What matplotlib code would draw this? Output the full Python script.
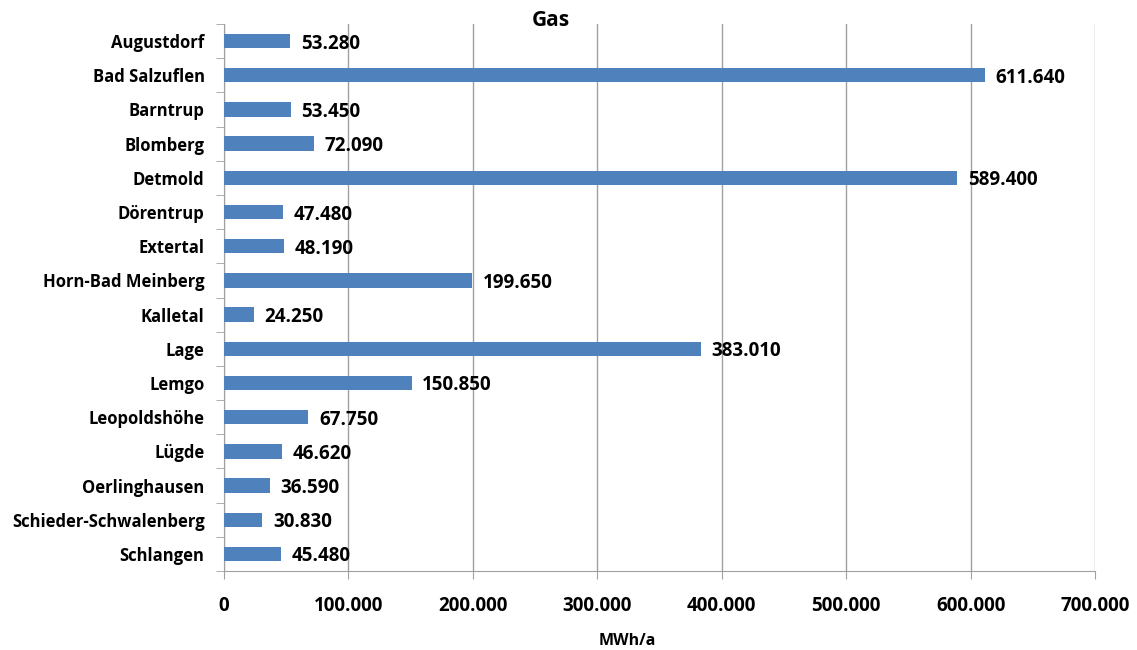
import matplotlib
matplotlib.use("Agg")
import matplotlib.pyplot as plt
from matplotlib.ticker import FuncFormatter, MultipleLocator

plt.rcParams['font.family'] = ['Open Sans', 'DejaVu Sans']

categories = ["Augustdorf", "Bad Salzuflen", "Barntrup", "Blomberg", "Detmold",
              "Dörentrup", "Extertal", "Horn-Bad Meinberg", "Kalletal", "Lage",
              "Lemgo", "Leopoldshöhe", "Lügde", "Oerlinghausen",
              "Schieder-Schwalenberg", "Schlangen"]
values = [53280, 611640, 53450, 72090, 589400, 47480, 48190, 199650, 24250,
          383010, 150850, 67750, 46620, 36590, 30830, 45480]

def de(v):
    return f"{int(v):,}".replace(",", ".")

fig = plt.figure(figsize=(11.37, 6.5), dpi=100)
ax = fig.add_axes([224/1137, 1-571/650, (1095-224)/1137, (571-24)/650])

y = list(range(len(categories)))
ax.barh(y, values, height=0.42, color="#4F81BD", zorder=3)
for yi, v in zip(y, values):
    ax.text(v + 8500, yi, de(v), va="center_baseline", ha="left",
            fontsize=13.5, fontweight="bold", color="black")

ax.set_ylim(len(categories) - 0.5, -0.5)
ax.set_xlim(0, 700000)
ax.set_yticks(y)
ax.set_yticklabels(categories, fontsize=12, fontweight="bold")
ax.xaxis.set_major_locator(MultipleLocator(100000))
ax.xaxis.set_major_formatter(FuncFormatter(lambda v, p: de(v)))
for lab in ax.get_xticklabels():
    lab.set_fontweight("bold")
ax.tick_params(axis="x", labelsize=13.5, length=6, color="#A0A0A0", pad=12)
ax.tick_params(axis="y", length=0, pad=14)
ax.set_yticks([i - 0.5 for i in range(len(categories) + 1)], minor=True)
ax.tick_params(axis="y", which="minor", length=6, color="#A0A0A0")

ax.grid(axis="x", color="#A0A0A0", linewidth=1, zorder=0)
for s in ["top", "right"]:
    ax.spines[s].set_visible(False)
for s in ["left", "bottom"]:
    ax.spines[s].set_color("#A0A0A0")

fig.text(551/1137, 1-20/650, "Gas", ha="center", va="center", fontsize=15,
         fontweight="bold")
fig.text(627/1137, 1-641/650, "MWh/a", ha="center", va="center", fontsize=11.5,
         fontweight="bold")

fig.savefig("out.png", dpi=100)
